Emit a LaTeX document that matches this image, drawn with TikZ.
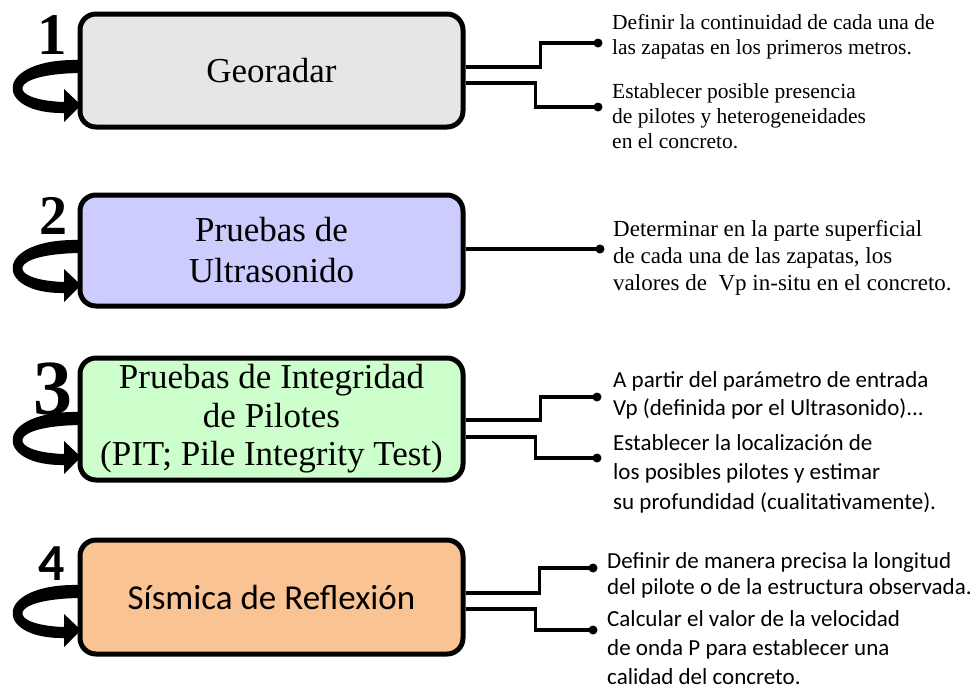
\documentclass[tikz,border=0pt]{standalone}
\usepackage{fontspec}
\setmainfont{Liberation Serif}
\newfontfamily\calfont{Carlito}
\usetikzlibrary{calc}
\definecolor{cgray}{HTML}{E6E6E6}
\definecolor{cblue}{HTML}{CCCCFF}
\definecolor{cgreen}{HTML}{CCFFCC}
\definecolor{corange}{HTML}{FAC393}
\tikzset{
  box/.style={draw=black, line width=5pt, rounded corners=16pt, minimum width=383pt, align=center, inner sep=0pt},
  conn/.style={line width=3.5pt, line join=miter},
  note/.style={anchor=base west, inner sep=0pt},
  num/.style={inner sep=0pt},
  pics/looparr/.style={code={
    \fill[black] (80,0) .. controls (-7,-2) and (-7,54) .. (64,53) -- (64,62) -- (81,45) -- (64,29) -- (64,42)
      .. controls (6,40) and (6,14) .. (80,13) -- cycle;
  }}
}
\newcommand{\notetext}[2]{\begin{tabular}[t]{@{}l@{}}#2\end{tabular}}
\begin{document}
\begin{tikzpicture}[x=1pt,y=-1pt]
\useasboundingbox (0,0) rectangle (979,689);

% boxes
\node[box, fill=cgray, minimum height=113pt, font=\fontsize{35}{40}\selectfont] (b1) at (271.5,70.5) {Georadar};
\node[box, fill=cblue, minimum height=111pt, font=\fontsize{35}{41}\selectfont] (b2) at (271.5,250.5) {Pruebas de\\Ultrasonido};
\node[box, fill=cgreen, minimum height=122pt, font=\fontsize{35}{38.5}\selectfont] (b3) at (271.5,419) {Pruebas de Integridad\\de Pilotes\\(PIT; Pile Integrity Test)};
\node[box, fill=corange, minimum height=114pt, font=\calfont\fontsize{35}{40}\selectfont] (b4) at (271.5,597) {Sísmica de Reflexión};

% numbers
\node[num, font=\bfseries\fontsize{59}{59}\selectfont] (n1) at (52,35) {1};
\node[num, font=\bfseries\fontsize{56}{56}\selectfont] (n2) at (53,216) {2};
\node[num, font=\bfseries\fontsize{78}{78}\selectfont] (n3) at (53,389) {3};
\node[num, font=\calfont\bfseries\fontsize{52}{52}\selectfont] (n4) at (52,564) {4};

% loop arrows
\pic at (0,60) {looparr};
\pic at (0,240) {looparr};
\pic at (0,412) {looparr};
\pic at (0,585) {looparr};

% dot coordinates
\coordinate (d1a) at (598,43);
\coordinate (d1b) at (598,107);
\coordinate (d2) at (600,249);
\coordinate (d3a) at (597,397);
\coordinate (d3b) at (597,458);
\coordinate (d4a) at (593,568);
\coordinate (d4b) at (593,630);

% connectors
\draw[conn] (b1.east |- 0,67) -- ++(75,0) |- (d1a);
\draw[conn] (b1.east |- 0,83) -- ++(70,0) |- (d1b);
\draw[conn] (b2.east |- 0,249) -- (d2);
\draw[conn] (b3.east |- 0,420) -- ++(75,0) |- (d3a);
\draw[conn] (b3.east |- 0,437) -- ++(70,0) |- (d3b);
\draw[conn] (b4.east |- 0,593) -- ++(74,0) |- (d4a);
\draw[conn] (b4.east |- 0,609) -- ++(70,0) |- (d4b);
\foreach \d in {d1a,d1b,d2,d3a,d3b,d4a,d4b} \fill (\d) circle[radius=4.5pt];

% notes
\node[note, font=\fontsize{21.5}{25}\selectfont] (t1a) at (612,29) {\notetext{}{Definir la continuidad de cada una de\\las zapatas en los primeros metros.}};
\node[note, font=\fontsize{21.5}{25}\selectfont] (t1b) at (612,98) {\notetext{}{Establecer posible presencia\\de pilotes y heterogeneidades\\en el concreto.}};
\node[note, font=\fontsize{23}{27}\selectfont] (t2) at (613,236) {\notetext{}{Determinar en la parte superficial\\de cada una de las zapatas, los\\valores de \ Vp in-situ en el concreto.}};
\node[note, font=\calfont\fontsize{23}{28}\selectfont] (t3a) at (613,387) {\notetext{}{A partir del parámetro de entrada\\Vp (definida por el Ultrasonido)...}};
\node[note, font=\calfont\fontsize{23}{29.5}\selectfont] (t3b) at (613,450) {\notetext{}{Establecer la localización de\\los posibles pilotes y estimar\\su profundidad (cualitativamente).}};
\node[note, font=\calfont\fontsize{23}{26}\selectfont] (t4a) at (607,568) {\notetext{}{Definir de manera precisa la longitud\\del pilote o de la estructura observada.}};
\node[note, font=\calfont\fontsize{23}{29}\selectfont] (t4b) at (607,626) {\notetext{}{Calcular el valor de la velocidad\\de onda P para establecer una\\calidad del concreto.}};
\end{tikzpicture}
\end{document}
